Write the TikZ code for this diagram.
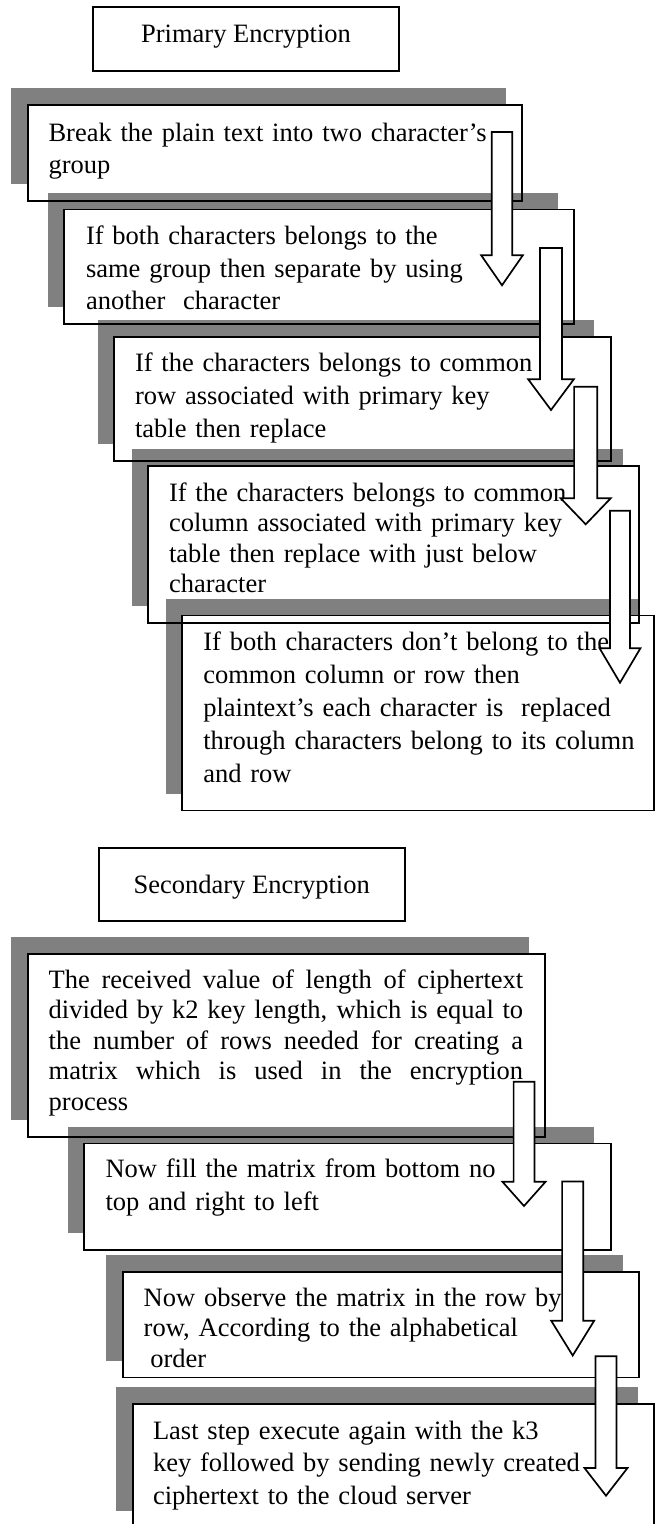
\documentclass[tikz,border=0pt]{standalone}
\usepackage{fontspec}
\setmainfont{Liberation Serif}
\definecolor{shadowgray}{RGB}{128,128,128}

\tikzset{
  cardshadow/.style={fill=shadowgray, draw=none, anchor=north west, inner sep=0pt, outer sep=0pt},
  cardfill/.style={fill=white, draw=none, anchor=north west, inner sep=0pt, outer sep=0pt},
  cardline/.style={draw=black, line width=1.8pt},
  cardtext/.style={anchor=base west, inner sep=0pt, outer sep=0pt, align=left, text width=480pt,
                   font=\fontsize{26.5}{#1}\selectfont},
  titlebox/.style={draw=black, line width=1.8pt, fill=white, anchor=north west, inner sep=0pt, outer sep=0pt},
  titletext/.style={anchor=base, inner sep=0pt, font=\fontsize{26.5}{32}\selectfont},
  blockarrow/.style={draw=black, fill=white, line width=1.7pt, line join=miter},
}

% shadow + white card: name, x, y (top left), width, height
\newcommand\stepcard[5]{%
  \node[cardshadow, minimum width=#4pt, minimum height=#5pt] (#1s) at (#2-16.5,#3-17) {};
  \node[cardfill, minimum width=#4pt, minimum height=#5pt] (#1) at (#2,#3) {};
}
% outline of a card
\newcommand\cardframe[1]{\draw[cardline] (#1.north west) rectangle (#1.south east);}
% hollow down arrow: centre x, shaft half width, top, head base, head half width, tip
\newcommand\hollowarrow[6]{%
  \draw[blockarrow] (#1-#2,#3) -- (#1+#2,#3) -- (#1+#2,#4) -- (#1+#5,#4) -- (#1,#6)
    -- (#1-#5,#4) -- (#1-#2,#4) -- cycle;
}

\begin{document}
\begin{tikzpicture}[x=1pt, y=-1pt]
\useasboundingbox (0,0) rectangle (655,1524);

% ---------- primary encryption ----------
\node[titlebox, minimum width=306.3pt, minimum height=64pt] (primary) at (92.7,6.7) {};
\node[titletext] (primarylbl) at (246,42.5) {Primary Encryption};

\stepcard{b1}{27.7}{105}{494.6}{95.7}
\stepcard{b2}{64.3}{209.5}{509.7}{114.5}
\cardframe{b1}
\stepcard{b3}{114.3}{336.7}{496.4}{124.3}
\cardframe{b2}
\stepcard{b4}{148.3}{466}{490.7}{157.3}
\cardframe{b3}
\stepcard{b5}{182.3}{615.5}{471.7}{195}
\cardframe{b4}
\cardframe{b5}

\node[cardtext=32] (t1) at (48.5,141) {Break the plain text into two character’s\\group};
\node[cardtext=32.5] (t2) at (86,244.5) {If both characters belongs to the\\same group then separate by using\\another~ character};
\node[cardtext=33] (t3) at (135,371.7) {If the characters belongs to common\\row associated with primary key\\table then replace};
\node[cardtext=30.5] (t4) at (169,501) {If the characters belongs to common\\column associated with primary key\\table then replace with just below\\character};
\node[cardtext=33] (t5) at (203.3,650) {If both characters don’t belong to the\\common column or row then\\plaintext’s each character is~ replaced\\through characters belong to its column\\and row};

\hollowarrow{502}{10.3}{132}{255.3}{20.8}{285.3}
\hollowarrow{551}{11}{248}{379.3}{22.8}{410}
\hollowarrow{585.7}{11.6}{386.7}{498.3}{25}{524.3}
\hollowarrow{620}{10}{510.7}{648.3}{20.4}{682.7}

% ---------- secondary encryption ----------
\node[titlebox, minimum width=306.2pt, minimum height=72.4pt] (secondary) at (99,848.3) {};
\node[titletext] (secondarylbl) at (251.7,893.3) {Secondary Encryption};

\stepcard{b6}{27.7}{954}{517.3}{183}
\stepcard{b7}{84.3}{1143.5}{526.4}{106.5}
\cardframe{b6}
\stepcard{b8}{122.7}{1272}{516.6}{105.5}
\cardframe{b7}
\stepcard{b9}{132.7}{1404}{521.6}{124}
\cardframe{b8}
\cardframe{b9}

% justified paragraph, lines broken where the card breaks them
\node[cardtext=30.4, align=justify, text width=474.5pt] (t6) at (48.7,988.5) {%
  \tolerance=10000\hbadness=10000
  The received value of length of ciphertext\linebreak
  divided by k2 key length, which is equal to\linebreak
  the number of rows needed for creating a\linebreak
  matrix which is used in the encryption\linebreak
  process};
\node[cardtext=33] (t7) at (105.5,1177.5) {Now fill the matrix from bottom no\\top and right to left};
\node[cardtext=30.3] (t8) at (143.7,1306.5) {Now observe the matrix in the row by\\row, According to the alphabetical\\\hspace*{0.25em}order};
\node[cardtext=32.3] (t9) at (153,1439.5) {Last step execute again with the k3\\key followed by sending newly created\\ciphertext to the cloud server};

\hollowarrow{524}{10.4}{1081.7}{1181.7}{21.6}{1206}
\hollowarrow{572.7}{10.6}{1181.5}{1320.7}{21.5}{1355.5}
\hollowarrow{606}{10.5}{1356.3}{1468}{21.5}{1495.7}
\end{tikzpicture}
\end{document}
